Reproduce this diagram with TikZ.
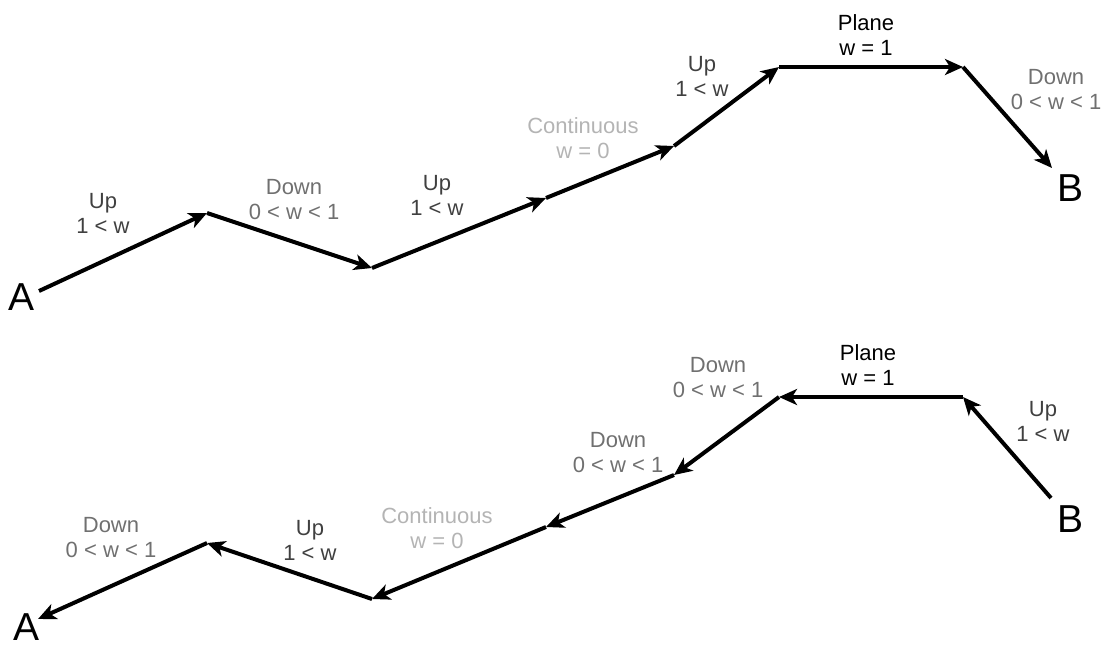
\documentclass[tikz,border=0pt]{standalone}
\usepackage{fontspec}
\setmainfont{Liberation Sans}
\usetikzlibrary{arrows.meta}
\definecolor{upc}{HTML}{404040}
\definecolor{downc}{HTML}{707070}
\definecolor{contc}{HTML}{B4B4B4}
\begin{document}
\begin{tikzpicture}[x=1pt,y=-1pt,
  seg/.style={line width=4pt,-{Stealth[length=18pt,width=16pt,inset=5pt]}},
  lbl/.style={align=center,font=\fontsize{22}{25}\selectfont,inner sep=0pt,anchor=base},
  uplbl/.style={lbl,text=upc},
  downlbl/.style={lbl,text=downc},
  contlbl/.style={lbl,text=contc},
  planelbl/.style={lbl,text=black},
  endpt/.style={font=\fontsize{39}{39}\selectfont,inner sep=0pt,anchor=base}]
\useasboundingbox (0,0) rectangle (1110,646);
% top path
\node[endpt] (A1) at (22,310) {A};
\node[endpt] (B1) at (1070,201) {B};
\coordinate (t0) at (39,291);
\coordinate (t1) at (207,213);
\coordinate (t2) at (372,268);
\coordinate (t3) at (546,198);
\coordinate (t4) at (674,146);
\coordinate (t5) at (779,67);
\coordinate (t6) at (963,67);
\coordinate (t7) at (1052,168);
\draw[seg] (t0) -- (t1);
\draw[seg] (t1) -- (t2);
\draw[seg] (t2) -- (t3);
\draw[seg] (t3) -- (t4);
\draw[seg] (t4) -- (t5);
\draw[seg] (t5) -- (t6);
\draw[seg] (t6) -- (t7);
% labels: anchor = baseline of the second line
\node[uplbl] (tl1) at (103,233) {Up\\1 < w};
\node[downlbl] (tl2) at (294,219.5) {Down\\0 < w < 1};
\node[uplbl] (tl3) at (437,215.5) {Up\\1 < w};
\node[contlbl] (tl4) at (583,158.5) {Continuous\\w = 0};
\node[uplbl] (tl5) at (702,96) {Up\\1 < w};
\node[planelbl] (tl6) at (866,55) {Plane\\w = 1};
\node[downlbl] (tl7) at (1056,109) {Down\\0 < w < 1};
% bottom path
\node[endpt] (B2) at (1070,532) {B};
\node[endpt] (A2) at (27,640) {A};
\coordinate (b0) at (1051,498);
\coordinate (b1) at (963,397);
\coordinate (b2) at (779,397);
\coordinate (b3) at (674,475);
\coordinate (b4) at (546,527);
\coordinate (b5) at (372,599);
\coordinate (b6) at (207,543);
\coordinate (b7) at (38,619);
\draw[seg] (b0) -- (b1);
\draw[seg] (b1) -- (b2);
\draw[seg] (b2) -- (b3);
\draw[seg] (b3) -- (b4);
\draw[seg] (b4) -- (b5);
\draw[seg] (b5) -- (b6);
\draw[seg] (b6) -- (b7);
\node[uplbl] (bl1) at (1043,441) {Up\\1 < w};
\node[planelbl] (bl2) at (868,385) {Plane\\w = 1};
\node[downlbl] (bl3) at (718,397) {Down\\0 < w < 1};
\node[downlbl] (bl4) at (618,472) {Down\\0 < w < 1};
\node[contlbl] (bl5) at (437,548) {Continuous\\w = 0};
\node[uplbl] (bl6) at (310,560) {Up\\1 < w};
\node[downlbl] (bl7) at (111,557) {Down\\0 < w < 1};
\end{tikzpicture}
\end{document}
